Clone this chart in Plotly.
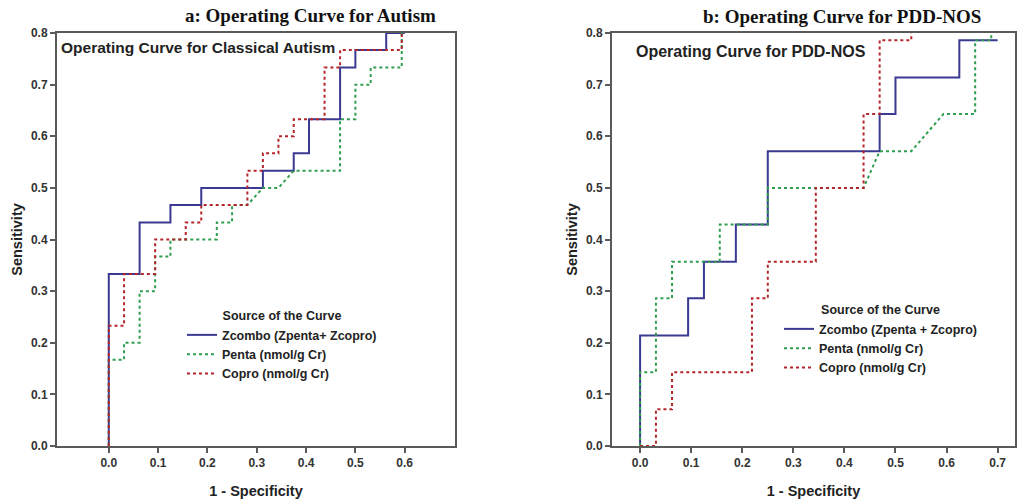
import plotly.graph_objects as go

# ---------- data: panel a (Classical Autism) ----------
a_zcombo_x = [0.0, 0.0, 0.0625, 0.0625, 0.125, 0.125, 0.1875, 0.1875, 0.3125, 0.3125, 0.375, 0.375,
              0.406, 0.406, 0.469, 0.469, 0.5, 0.5, 0.5625, 0.5625, 0.6]
a_zcombo_y = [0.0, 0.333, 0.333, 0.433, 0.433, 0.467, 0.467, 0.5, 0.5, 0.533, 0.533, 0.567,
              0.567, 0.633, 0.633, 0.733, 0.733, 0.767, 0.767, 0.8, 0.8]

a_penta_x = [0.0, 0.0, 0.031, 0.031, 0.0625, 0.0625, 0.094, 0.094, 0.125, 0.125, 0.219, 0.219,
             0.25, 0.25, 0.281, 0.3125, 0.344, 0.375, 0.469, 0.469, 0.5, 0.5, 0.531, 0.531,
             0.594, 0.594]
a_penta_y = [0.0, 0.167, 0.167, 0.2, 0.2, 0.3, 0.3, 0.367, 0.367, 0.4, 0.4, 0.433,
             0.433, 0.467, 0.467, 0.5, 0.5, 0.533, 0.533, 0.633, 0.633, 0.7, 0.7, 0.733,
             0.733, 0.8]

a_copro_x = [0.0, 0.0, 0.031, 0.031, 0.094, 0.094, 0.156, 0.156, 0.1875, 0.1875, 0.281, 0.281,
             0.3125, 0.3125, 0.344, 0.344, 0.375, 0.375, 0.4375, 0.4375, 0.469, 0.469, 0.594, 0.594]
a_copro_y = [0.0, 0.233, 0.233, 0.333, 0.333, 0.4, 0.4, 0.433, 0.433, 0.467, 0.467, 0.533,
             0.533, 0.567, 0.567, 0.6, 0.6, 0.633, 0.633, 0.733, 0.733, 0.767, 0.767, 0.8]

# ---------- data: panel b (PDD-NOS) ----------
b_zcombo_x = [0.0, 0.0, 0.094, 0.094, 0.125, 0.125, 0.1875, 0.1875, 0.25, 0.25, 0.469, 0.469,
              0.5, 0.5, 0.625, 0.625, 0.7]
b_zcombo_y = [0.0, 0.214, 0.214, 0.286, 0.286, 0.357, 0.357, 0.429, 0.429, 0.571, 0.571, 0.643,
              0.643, 0.714, 0.714, 0.786, 0.786]

b_penta_x = [0.0, 0.0, 0.031, 0.031, 0.0625, 0.0625, 0.156, 0.156, 0.25, 0.25, 0.4375, 0.469,
             0.531, 0.594, 0.656, 0.656, 0.6875, 0.6875]
b_penta_y = [0.0, 0.143, 0.143, 0.286, 0.286, 0.357, 0.357, 0.429, 0.429, 0.5, 0.5, 0.571,
             0.571, 0.643, 0.643, 0.786, 0.786, 0.8]

b_copro_x = [0.0, 0.031, 0.031, 0.0625, 0.0625, 0.219, 0.219, 0.25, 0.25, 0.344, 0.344, 0.4375,
             0.4375, 0.469, 0.469, 0.531, 0.531]
b_copro_y = [0.0, 0.0, 0.071, 0.071, 0.143, 0.143, 0.286, 0.286, 0.357, 0.357, 0.5, 0.5,
             0.643, 0.643, 0.786, 0.786, 0.8]

series_names_a = ["Zcombo (Zpenta+ Zcopro)", "Penta (nmol/g Cr)", "Copro (nmol/g Cr)"]
series_names_b = ["Zcombo (Zpenta + Zcopro)", "Penta (nmol/g Cr)", "Copro (nmol/g Cr)"]
x_ticks_a = [0.0, 0.1, 0.2, 0.3, 0.4, 0.5, 0.6]
x_ticks_b = [0.0, 0.1, 0.2, 0.3, 0.4, 0.5, 0.6, 0.7]
y_ticks = [0.0, 0.1, 0.2, 0.3, 0.4, 0.5, 0.6, 0.7, 0.8]

BLUE = "#3a3a92"
GREEN = "#2f9e4f"
RED = "#b5262a"
AX = "#5a5a5a"
FONT = "Liberation Sans, Arial, sans-serif"
SERIF = "Liberation Serif, Times New Roman, serif"

W, H = 1019, 502
OFF = 0  # page body margin is removed by post_script below


def X(s):
    return (s - OFF) / W


def Y(s):
    return 1 - (s - OFF) / H


fig = go.Figure()


def add(x, y, name, color, dash, xa, ya, leg):
    fig.add_trace(go.Scatter(x=x, y=y, mode="lines", name=name,
                             line=dict(color=color, width=2, dash=dash),
                             xaxis=xa, yaxis=ya, legend=leg))


add(a_zcombo_x, a_zcombo_y, series_names_a[0], BLUE, "solid", "x", "y", "legend")
add(a_penta_x, a_penta_y, series_names_a[1], GREEN, "dot", "x", "y", "legend")
add(a_copro_x, a_copro_y, series_names_a[2], RED, "dot", "x", "y", "legend")
add(b_zcombo_x, b_zcombo_y, series_names_b[0], BLUE, "solid", "x2", "y2", "legend2")
add(b_penta_x, b_penta_y, series_names_b[1], GREEN, "dot", "x2", "y2", "legend2")
add(b_copro_x, b_copro_y, series_names_b[2], RED, "dot", "x2", "y2", "legend2")


def axis_common():
    return dict(showline=True, linecolor=AX, linewidth=2, mirror=True, showgrid=False,
                zeroline=False, ticks="outside", ticklen=5, tickwidth=1.5, tickcolor=AX,
                automargin=False,
                tickfont=dict(family=FONT, size=12, color="#333", weight="bold"),
                tickformat=".1f")


ydom = [Y(446), Y(33)]
title_font = dict(family=FONT, size=14.5, color="#222", weight="bold")

xa = axis_common()
xa.update(domain=[X(57), X(455)], range=[-0.105, 0.702], tickvals=x_ticks_a, anchor="y",
          title=dict(text="1 - Specificity", standoff=16, font=title_font))
ya = axis_common()
ya.update(domain=ydom, range=[0, 0.8], tickvals=y_ticks, anchor="x",
          title=dict(text="Sensitivity", standoff=5, font=title_font))
xb = axis_common()
xb.update(domain=[X(612), X(1015)], range=[-0.055, 0.734], tickvals=x_ticks_b, anchor="y2",
          title=dict(text="1 - Specificity", standoff=16, font=title_font))
yb = axis_common()
yb.update(domain=ydom, range=[0, 0.8], tickvals=y_ticks, anchor="x2",
          title=dict(text="Sensitivity", standoff=5, font=title_font))

leg_font = dict(family=FONT, size=12.5, color="#222", weight="bold")

fig.update_layout(
    width=W, height=H,
    margin=dict(l=0, r=0, t=0, b=0),
    paper_bgcolor="white", plot_bgcolor="white",
    xaxis=xa, yaxis=ya, xaxis2=xb, yaxis2=yb,
    legend=dict(x=X(182), y=Y(304), xanchor="left", yanchor="top",
                bgcolor="rgba(0,0,0,0)", font=leg_font, tracegroupgap=0, itemwidth=30,
                title=dict(text="Source of the Curve", side="top center", font=leg_font)),
    legend2=dict(x=X(779), y=Y(298), xanchor="left", yanchor="top",
                 bgcolor="rgba(0,0,0,0)", font=leg_font, tracegroupgap=0, itemwidth=30,
                 title=dict(text="Source of the Curve", side="top center", font=leg_font)),
    annotations=[
        dict(text="a: Operating Curve for Autism", x=X(310), y=Y(16), xref="paper",
             yref="paper", showarrow=False, xanchor="center", yanchor="middle",
             font=dict(family=SERIF, size=19, color="#111", weight="bold")),
        dict(text="b: Operating Curve for PDD-NOS", x=X(842), y=Y(17), xref="paper",
             yref="paper", showarrow=False, xanchor="center", yanchor="middle",
             font=dict(family=SERIF, size=19, color="#111", weight="bold")),
        dict(text="Operating Curve for Classical Autism", x=X(59), y=Y(47),
             xref="paper", yref="paper", showarrow=False, xanchor="left", yanchor="middle",
             font=dict(family=FONT, size=15.5, color="#222", weight="bold")),
        dict(text="Operating Curve for PDD-NOS", x=X(634), y=Y(51),
             xref="paper", yref="paper", showarrow=False, xanchor="left", yanchor="middle",
             font=dict(family=FONT, size=16, color="#222", weight="bold")),
    ],
)

fig.write_html("out.html",
               config={"displayModeBar": False},
               post_script="document.body.style.margin='0px';document.body.style.overflow='hidden';")
